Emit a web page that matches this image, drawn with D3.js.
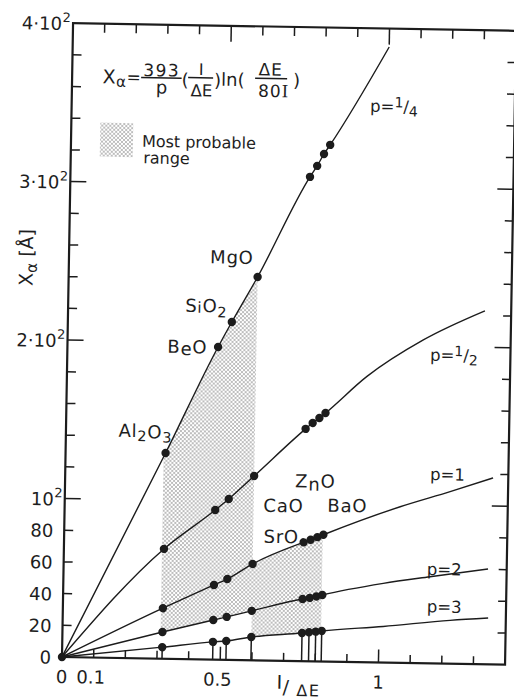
<!DOCTYPE html>
<html>
<head>
<meta charset="utf-8">
<script src="https://cdn.jsdelivr.net/npm/d3@7"></script>
<style>
  html, body { margin: 0; background: #fff; }
  svg { display: block; }
  text { font-family: "DejaVu Sans", sans-serif; fill: #1e1e1e; }
</style>
</head>
<body>
<svg id="chart" width="514" height="700"></svg>
<script>
// ---- data -------------------------------------------------------------
// oxides and their I/ΔE values (one column of points per oxide)
const compounds = ["Al2O3", "BeO", "SiO2", "MgO", "CaO", "SrO", "ZnO", "BaO"];
const ratioIdE  = [0.316, 0.476, 0.518, 0.597, 0.757, 0.779, 0.800, 0.819];

// X_alpha [Å] at each oxide, one array per p
const xQuarter = [129.8, 197.3, 213.2, 241.9, 305.6, 312.6, 320.2, 326.0];
const xHalf    = [69.3, 94.4, 101.5, 116.3, 146.6, 150.4, 153.6, 156.8];
const xOne     = [31.9, 47.1, 51.0, 60.8, 75.0, 76.7, 78.4, 80.0];
const xTwo     = [16.9, 25.0, 27.1, 31.2, 39.2, 40.0, 41.0, 42.0];
const xThree   = [7.3, 11.2, 11.9, 14.7, 17.8, 18.3, 18.8, 19.3];

// further points along each curve past the oxides: [I/ΔE, X_alpha]
const tailQuarter = [[1.000, 388.4]];
const tailHalf    = [[0.947, 180.2], [1.124, 204.0], [1.317, 223.0]];
const tailOne     = [[1.060, 98.5], [1.217, 108.6], [1.352, 117.7]];
const tailTwo     = [[1.011, 50.0], [1.158, 54.7], [1.341, 60.2]];
const tailThree   = [[1.013, 22.8], [1.224, 27.4], [1.344, 29.3]];

const pNames = ["1/4", "1/2", "1", "2", "3"];

// "most probable" band limits in I/ΔE
const bandStart = 0.31, bandStep = 0.597, bandEnd = 0.817;

// axis labels
const xLabelValues = [0, 0.1, 0.5, 1];
const xLabelText   = ["0", "0.1", "0.5", "1"];
const yLabelValues = [0, 20, 40, 60, 80, 100, 200, 300, 400];
const yLabelText   = ["0", "20", "40", "60", "80", "10^2", "2·10^2", "3·10^2", "4·10^2"];

// ---- layout -----------------------------------------------------------
const ox = 62, oy = 657;           // plot origin
const x = d3.scaleLinear().domain([0, 1.4]).range([ox, ox + 316.5 * 1.4]);
const y = d3.scaleLinear().domain([0, 400]).range([oy, oy - 1.585 * 400]);
const ink = "#1c1c1c";

const svg = d3.select("#chart");
const defs = svg.append("defs");
const pat = defs.append("pattern").attr("id", "stipple")
  .attr("patternUnits", "userSpaceOnUse").attr("width", 4).attr("height", 4);
pat.append("rect").attr("width", 4).attr("height", 4).attr("fill", "#fff");
[[1, 1], [3, 3]].forEach(([cx, cy]) =>
  pat.append("circle").attr("cx", cx).attr("cy", cy).attr("r", 0.8).attr("fill", "#6a6a6a"));

// the whole figure sits at a slight tilt
const g = svg.append("g").attr("transform", `rotate(1 ${ox} ${oy})`);

const series = [xQuarter, xHalf, xOne, xTwo, xThree].map((vals, k) => ({
  p: pNames[k],
  pts: [[0, 0], ...ratioIdE.map((u, i) => [u, vals[i]]), ...[tailQuarter, tailHalf, tailOne, tailTwo, tailThree][k]]
}));

function valueAt(s, u) {
  const p = s.pts;
  for (let i = 1; i < p.length; i++) {
    if (u <= p[i][0]) {
      const t = (u - p[i - 1][0]) / (p[i][0] - p[i - 1][0]);
      return p[i - 1][1] + t * (p[i][1] - p[i - 1][1]);
    }
  }
  return p[p.length - 1][1];
}
function along(s, a, b) {
  const out = [[a, valueAt(s, a)]];
  s.pts.forEach(d => { if (d[0] > a && d[0] < b) out.push(d); });
  out.push([b, valueAt(s, b)]);
  return out;
}

// ---- shaded band ------------------------------------------------------
const [sQ, sH, s1, s2, s3] = series;
const band = [
  ...along(sQ, bandStart, bandStep),
  ...along(s1, bandStep, bandEnd),
  ...along(s3, bandStep, bandEnd).reverse(),
  ...along(s2, bandStart, bandStep).reverse()
];
g.append("path")
  .attr("d", d3.line().x(d => x(d[0])).y(d => y(d[1]))(band) + "Z")
  .attr("fill", "url(#stipple)");

// legend swatch
g.append("rect").attr("x", 91).attr("y", 122).attr("width", 33).attr("height", 34)
  .attr("fill", "url(#stipple)");
g.append("text").attr("x", 133).attr("y", 145.5).attr("font-size", 16).text("Most probable");
g.append("text").attr("x", 134.5).attr("y", 162).attr("font-size", 16).text("range");

// ---- curves -----------------------------------------------------------
const line = d3.line().x(d => x(d[0])).y(d => y(d[1])).curve(d3.curveMonotoneX);
g.selectAll("path.curve").data(series).join("path")
  .attr("class", "curve")
  .attr("d", d => line(d.pts))
  .attr("fill", "none").attr("stroke", ink).attr("stroke-width", 1.4);

// ---- axes frame & ticks -----------------------------------------------
g.append("rect")
  .attr("x", x(0)).attr("y", y(400))
  .attr("width", x(1.4) - x(0)).attr("height", y(0) - y(400))
  .attr("fill", "none").attr("stroke", ink).attr("stroke-width", 2.2);

const tk = g.append("g").attr("stroke", ink).attr("stroke-width", 1.5);
x.ticks(14).filter(v => v > 0.05 && v < 1.35).forEach(v => {
  const major = Math.abs(v - 0.5) < 1e-6 || Math.abs(v - 1) < 1e-6;
  tk.append("line").attr("x1", x(v)).attr("x2", x(v))
    .attr("y1", y(0)).attr("y2", y(0) - (major ? 13 : 8));
  tk.append("line").attr("x1", x(v)).attr("x2", x(v))
    .attr("y1", y(400)).attr("y2", y(400) + (major ? 16 : 9));
});
y.ticks(20).filter(v => v > 0 && v < 400).forEach(v => {
  const major = v % 100 === 0;
  tk.append("line").attr("x1", x(0)).attr("x2", x(0) + (major ? 16 : 9))
    .attr("y1", y(v)).attr("y2", y(v));
  tk.append("line").attr("x1", x(1.4)).attr("x2", x(1.4) - (major ? 16 : 8))
    .attr("y1", y(v)).attr("y2", y(v));
});
// marker lines at each oxide, from the axis up to the p=3 point
ratioIdE.forEach((u, i) => {
  tk.append("line").attr("x1", x(u)).attr("x2", x(u))
    .attr("y1", y(0)).attr("y2", y(xThree[i]));
});

// ---- measured points ----------------------------------------------------
const dots = [];
series.forEach(s => s.pts.slice(1, 1 + ratioIdE.length).forEach(d => dots.push(d)));
dots.push([0, 0]);
g.selectAll("circle.pt").data(dots).join("circle")
  .attr("class", "pt")
  .attr("cx", d => x(d[0])).attr("cy", d => y(d[1])).attr("r", 4.2)
  .attr("fill", ink);

// ---- text helpers ---------------------------------------------------------
function rich(sel, parts, size) {
  // parts: [text, shift, scale, family]; shift > 0 lowers, < 0 raises
  let cur = 0;
  parts.forEach(([t, shift, scale, family]) => {
    const sp = sel.append("tspan").text(t)
      .attr("dy", (shift || 0) - cur)
      .attr("font-size", size * (scale || 1));
    if (family) sp.attr("font-family", family);
    cur = shift || 0;
  });
  return sel;
}
function label(px, py, parts, size, anchor) {
  const t = g.append("text").attr("x", px).attr("y", py)
    .attr("font-size", size).attr("text-anchor", anchor || "start");
  return rich(t, parts, size);
}

// y tick labels
yLabelValues.forEach((v, i) => {
  const [base, sup] = yLabelText[i].split("^");
  g.append("text").attr("x", x(0) - 11).attr("y", y(v) + 7)
    .attr("font-size", 18).attr("text-anchor", "end").text(base);
  if (sup) {
    g.append("text").attr("x", x(0) - 10.5).attr("y", y(v) - 1)
      .attr("font-size", 13).text(sup);
  }
});
// x tick labels
xLabelValues.forEach((v, i) => {
  g.append("text").attr("x", x(v) - (v > 0 && v < 1 ? 2.5 : 0)).attr("y", y(0) + 26)
    .attr("font-size", 18).attr("text-anchor", "middle").text(xLabelText[i]);
});

// axis titles
const yt = g.append("text").attr("transform", "translate(26,258) rotate(-90)")
  .attr("font-size", 19).attr("text-anchor", "middle");
rich(yt, [["X", 0], ["α", 4, 0.8], [" [Å]", 0]], 19);

g.append("text").attr("x", 277).attr("y", 685).attr("font-size", 19)
  .attr("font-family", "DejaVu Serif").text("I");
g.append("text").attr("x", 283).attr("y", 690).attr("font-size", 19).text("/");
g.append("text").attr("x", 297).attr("y", 692).attr("font-size", 16)
  .attr("letter-spacing", 1.5).text("ΔE");

// formula
label(92.5, 82.6, [["X", 0]], 19);
label(106, 86, [["α", 0]], 15);
label(116.5, 82, [["=", 0]], 17);
label(151.5, 74.6, [["393", 0]], 17, "middle").attr("letter-spacing", 1.5);
label(151.5, 92, [["p", 0]], 18, "middle");
label(171.5, 84, [["(", 0]], 18);
label(191, 72.7, [["I", 0]], 16, "middle").attr("font-family", "DejaVu Serif");
label(191.5, 94, [["ΔE", 0]], 16.5, "middle");
label(204, 84, [[")", 0]], 18);
label(211, 83, [["ln(", 0]], 18);
label(260.5, 72, [["ΔE", 0]], 17, "middle").attr("letter-spacing", 1);
label(263.8, 93.5, [["80", 0], ["I", 0, 1, "DejaVu Serif"]], 17, "middle").attr("letter-spacing", 1);
label(283, 82.5, [[")", 0]], 18);
const bars = g.append("g").attr("stroke", ink).attr("stroke-width", 1.5);
[[131, 171.5, 76.3], [178, 203, 75.4], [245, 277, 74.9]].forEach(([a, b, c]) =>
  bars.append("line").attr("x1", a).attr("x2", b).attr("y1", c).attr("y2", c));

// oxide names
const oxideText = {
  Al2O3: [["Al", 0], ["2", 4, 0.8], ["O", 1], ["3", 5, 0.8]],
  BeO:   [["B", 0], ["e", 2], ["O", 0]],
  SiO2:  [["S", 0], ["i", 1, 0.85], ["O", 0], ["2", 5, 0.8]],
  MgO:   [["MgO", 0]],
  CaO:   [["CaO", 0]],
  SrO:   [["SrO", 0]],
  ZnO:   [["Z", 0], ["n", 3], ["O", 0]],
  BaO:   [["BaO", 0]]
};
const oxideAt = {              // [I/ΔE, X_alpha] of each name's start
  Al2O3: [0.166, 139.6], BeO: [0.316, 193.1], SiO2: [0.370, 219.2], MgO: [0.446, 250.0],
  CaO: [0.628, 93.9], SrO: [0.630, 74.3], ZnO: [0.727, 109.7], BaO: [0.830, 94.6]
};
compounds.forEach(c => {
  label(x(oxideAt[c][0]), y(oxideAt[c][1]), oxideText[c], 18).attr("letter-spacing", 0.8);
});

// curve names
const pAt = [[0.943, 347.3], [1.146, 191.0], [1.153, 115.7], [1.148, 55.8], [1.150, 32.2]];
pNames.forEach((p, k) => {
  const [a, b] = p.split("/");
  const parts = b ? [["p=", 0], [a, -5, 0.85], ["/", 0], [b, 4, 0.85]] : [["p=" + a, 0]];
  label(x(pAt[k][0]), y(pAt[k][1]), parts, 16.5);
});
</script>
</body>
</html>
